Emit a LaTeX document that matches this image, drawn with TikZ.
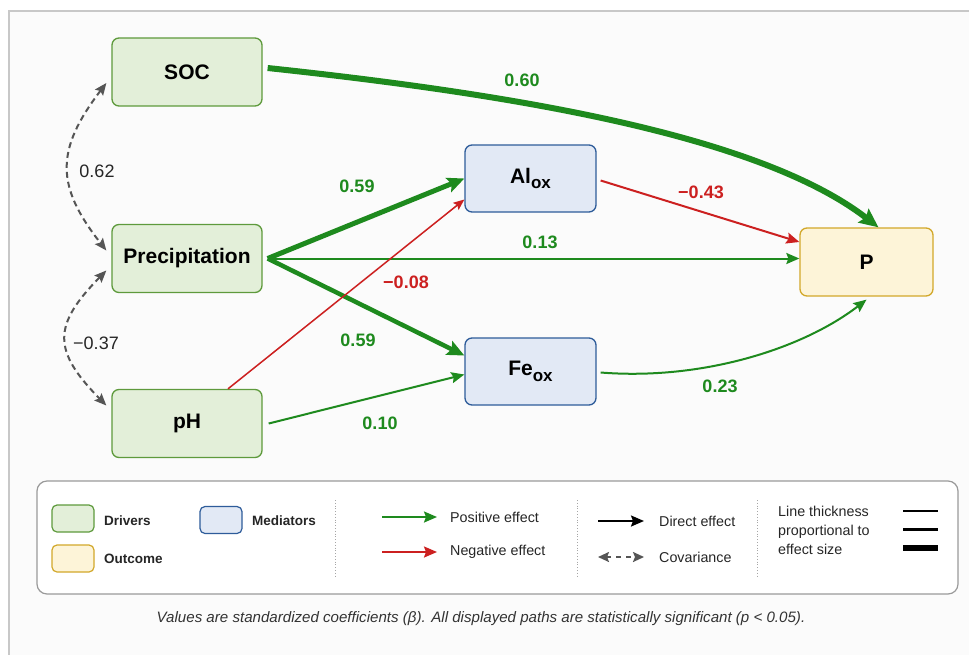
\documentclass[tikz,border=0pt]{standalone}
\usepackage{fontspec}
\setmainfont{Liberation Sans}
\usetikzlibrary{arrows.meta}
\definecolor{pgreen}{HTML}{1E8A1E}
\definecolor{nred}{HTML}{CC2020}
\definecolor{drvfill}{HTML}{E3EFD9}
\definecolor{drvline}{HTML}{5E9A3C}
\definecolor{medfill}{HTML}{E2E9F5}
\definecolor{medline}{HTML}{2E5C9A}
\definecolor{outfill}{HTML}{FDF4D8}
\definecolor{outln}{HTML}{D2A82A}
\definecolor{covgray}{HTML}{555555}
\definecolor{framegray}{HTML}{C8C8C8}
\definecolor{legline}{HTML}{9A9A9A}
\begin{document}
\begin{tikzpicture}[x=1pt,y=1pt,
  box/.style={rounded corners=7pt, line width=1.3pt, minimum width=150pt, minimum height=68pt, inner sep=0pt, font=\fontsize{21}{24}\selectfont\bfseries},
  drv/.style={box, fill=drvfill, draw=drvline},
  med/.style={box, fill=medfill, draw=medline, minimum width=131pt, minimum height=67pt},
  outc/.style={box, fill=outfill, draw=outln, minimum width=133pt},
  bigtip/.style={-{Stealth[length=19pt,width=17pt,inset=3pt]}},
  midtip/.style={-{Stealth[length=17pt,width=15pt,inset=3pt]}},
  smtip/.style={-{Stealth[length=13pt,width=11pt,inset=2pt]}},
  tinytip/.style={-{Stealth[length=11pt,width=9pt,inset=2pt]}},
  poseff/.style={draw=pgreen},
  negeff/.style={draw=nred},
  cov/.style={draw=covgray, line width=2pt, dash pattern=on 6pt off 4pt, {Stealth[length=12pt,width=10pt,inset=2pt]}-{Stealth[length=12pt,width=10pt,inset=2pt]}},
  lab/.style={font=\fontsize{18}{21}\selectfont\bfseries, inner sep=1pt},
  plab/.style={lab, text=pgreen},
  nlab/.style={lab, text=nred},
  clab/.style={font=\fontsize{18}{21}\selectfont, text=black!85, inner sep=1pt},
  legtxt/.style={font=\fontsize{14.3}{16}\selectfont, anchor=west, inner sep=0pt, text=black!85},
  legbold/.style={legtxt, font=\fontsize{13.5}{16}\selectfont\bfseries},
  swatch/.style={rounded corners=5pt, line width=1.2pt, minimum width=42pt, minimum height=27pt, inner sep=0pt},
  sep/.style={draw=black!35, line width=0.8pt, dotted}
]
\useasboundingbox (0,0) rectangle (969,-654);
\fill[white] (0,0) rectangle (969,-654);
\draw[framegray, fill={rgb,255:red,251;green,251;blue,251}, line width=1.2pt] (9,-11) rectangle (990,-680);

% nodes
\node[drv] (soc) at (187,-72) {SOC};
\node[drv] (prec) at (187,-258.5) {Precipitation};
\node[drv] (ph) at (187,-423.5) {pH};
\node[med] (alox) at (530.5,-178.5) {Al\raisebox{-0.5ex}{\fontsize{17}{17}\selectfont ox}};
\node[med] (feox) at (530.5,-371.5) {Fe\raisebox{-0.5ex}{\fontsize{17}{17}\selectfont ox}};
\node[outc] (p) at (866.5,-262) {P};

\coordinate (pe) at ([xshift=5pt]prec.east);

% paths
\draw[poseff, line width=6pt, bigtip] ([shift={(5pt,4pt)}]soc.east) .. controls +(253,-27) and +(-118,91) .. ([xshift=12pt]p.north);
\draw[poseff, line width=5pt, midtip] (pe) -- (alox.west);
\draw[poseff, line width=2pt, smtip] (pe) -- (p.west |- pe);
\draw[poseff, line width=4.5pt, midtip] (pe) -- ([yshift=16pt]feox.west);
\draw[negeff, line width=1.5pt, tinytip] ([xshift=41pt]ph.north) -- ([yshift=-21pt]alox.west);
\draw[poseff, line width=2pt, smtip] ([xshift=6pt]ph.east) -- ([yshift=-3pt]feox.west);
\draw[negeff, line width=2pt, smtip] ([shift={(4pt,-2pt)}]alox.east) -- ([yshift=20pt]p.west);
\draw[poseff, line width=2pt, smtip] ([shift={(4pt,-1pt)}]feox.east) .. controls +(100,-8) and +(-65,-50) .. ([yshift=-3pt]p.south);

% covariances
\draw[cov] ([shift={(-5pt,-11pt)}]soc.west) .. controls +(-51,-67) and +(-51,65) .. ([shift={(-5pt,8pt)}]prec.west);
\draw[cov] ([shift={(-5pt,-12pt)}]prec.west) .. controls +(-54,-55) and +(-54,55) .. ([shift={(-5pt,18pt)}]ph.west);

% labels
\node[plab] (l60) at (522,-80) {0.60};
\node[plab] (l59a) at (357,-186) {0.59};
\node[plab] (l13) at (540,-242) {0.13};
\node[nlab] (l08) at (406,-282) {−0.08};
\node[plab] (l59b) at (358,-340) {0.59};
\node[plab] (l10) at (380,-423) {0.10};
\node[nlab] (l43) at (701,-192) {−0.43};
\node[plab] (l23) at (720,-386) {0.23};
\node[clab] (l62) at (97,-171) {0.62};
\node[clab] (l37) at (96,-343) {−0.37};

% legend
\draw[legline, fill=white, line width=1.2pt, rounded corners=10pt] (37,-481) rectangle (958,-594);
\node[swatch, fill=drvfill, draw=drvline] (sw1) at (73,-518.5) {};
\node[legbold] (t1) at (104,-521) {Drivers};
\node[swatch, fill=medfill, draw=medline] (sw2) at (221,-520) {};
\node[legbold] (t2) at (252,-521) {Mediators};
\node[swatch, fill=outfill, draw=outln] (sw3) at (73,-558.5) {};
\node[legbold] (t3) at (104,-559) {Outcome};
\draw[sep] (335,-500) -- (335,-576);
\coordinate (pa1) at (382,-517); \coordinate (pa2) at (437,-517);
\draw[poseff, line width=2pt, smtip] (pa1) -- (pa2);
\node[legtxt] (t4) at (450,-517) {Positive effect};
\coordinate (na1) at (382,-552); \coordinate (na2) at (437,-552);
\draw[negeff, line width=2pt, smtip] (na1) -- (na2);
\node[legtxt] (t5) at (450,-552) {Negative effect};
\draw[sep] (577,-500) -- (577,-576);
\coordinate (da1) at (598,-521); \coordinate (da2) at (644,-521);
\draw[black, line width=2pt, smtip] (da1) -- (da2);
\node[legtxt] (t6) at (659,-521) {Direct effect};
\coordinate (ca1) at (598,-557); \coordinate (ca2) at (644,-557);
\draw[draw=covgray, line width=2pt, dash pattern=on 5pt off 5pt, {Stealth[length=11pt,width=10pt,inset=2pt]}-{Stealth[length=11pt,width=10pt,inset=2pt]}] (ca1) -- (ca2);
\node[legtxt] (t7) at (659,-557) {Covariance};
\draw[sep] (757,-500) -- (757,-576);
\node[legtxt, align=left, font=\fontsize{14.3}{19}\selectfont] (t8) at (778,-530) {Line thickness\\proportional to\\effect size};
\coordinate (w1a) at (903,-511); \coordinate (w1b) at (938,-511);
\coordinate (w2a) at (903,-529); \coordinate (w2b) at (938,-529);
\coordinate (w3a) at (903,-548); \coordinate (w3b) at (938,-548);
\draw[black, line width=1.5pt] (w1a) -- (w1b);
\draw[black, line width=3pt] (w2a) -- (w2b);
\draw[black, line width=5.5pt] (w3a) -- (w3b);

% caption
\node[font=\fontsize{15.1}{18}\selectfont\itshape, text=black!80] (cap) at (481,-619) {Values are standardized coefficients (β). All displayed paths are statistically significant (p < 0.05).};
\end{tikzpicture}
\end{document}
